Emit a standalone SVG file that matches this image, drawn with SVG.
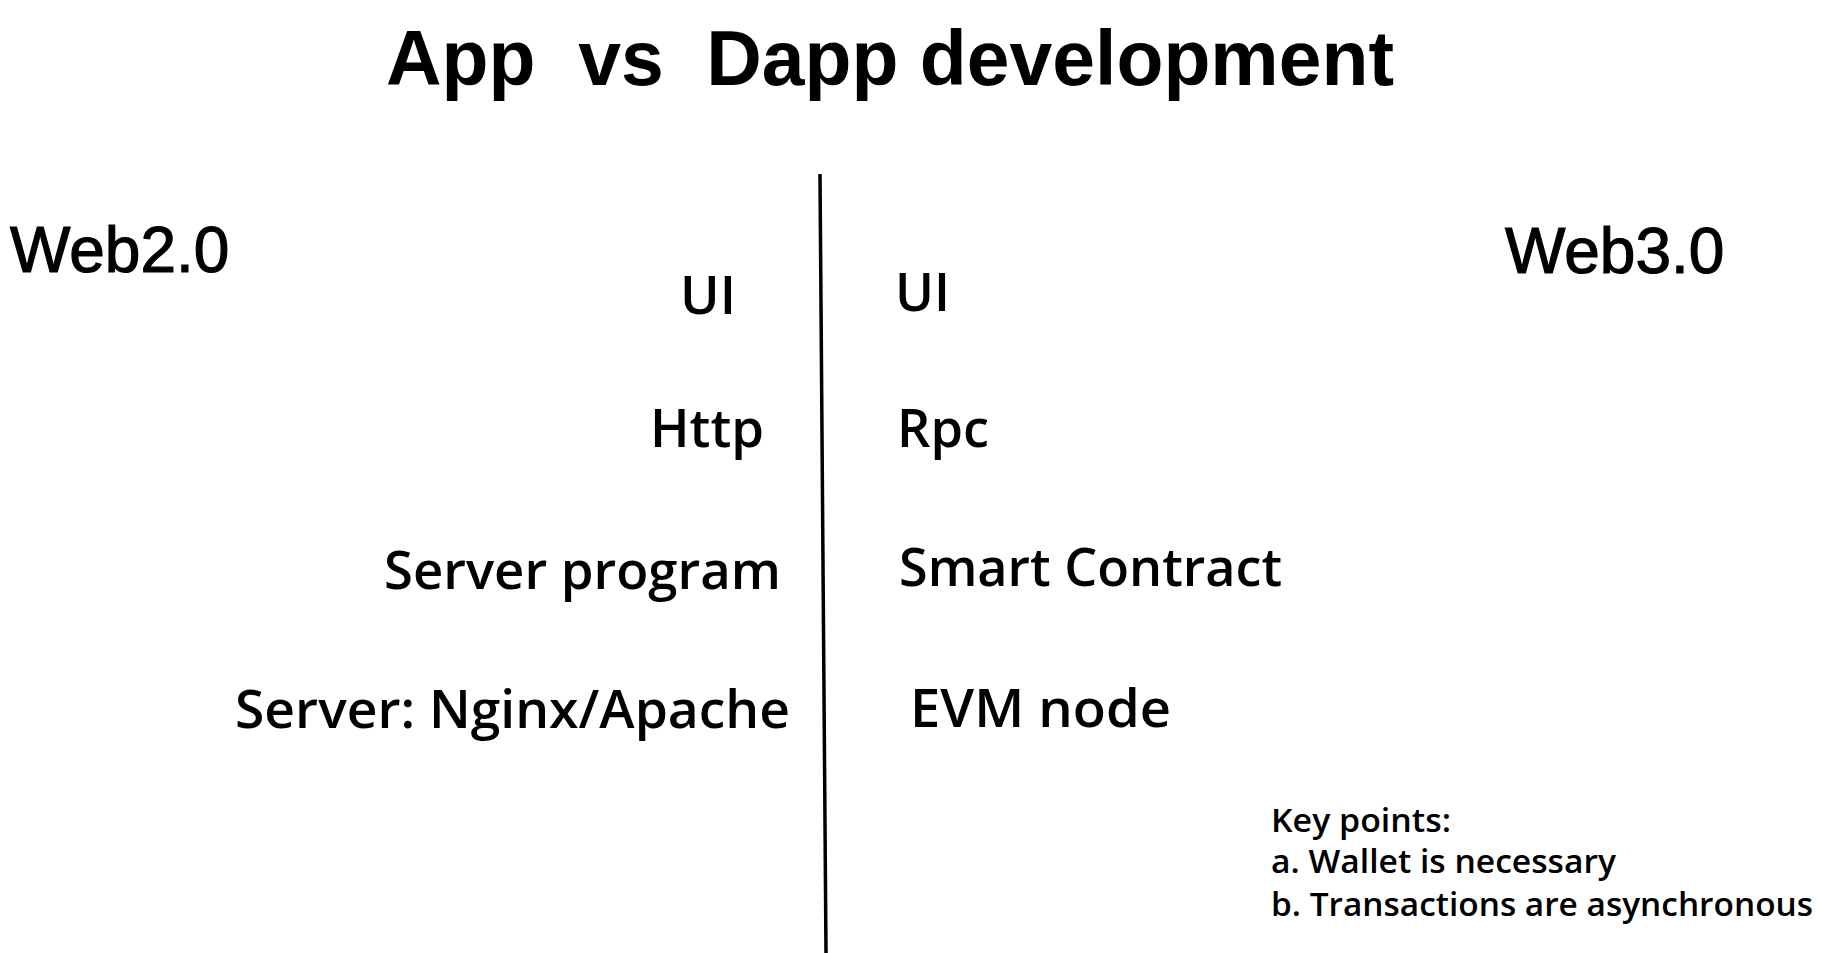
<svg xmlns="http://www.w3.org/2000/svg" width="1821" height="953" viewBox="0 0 1821 953">
<style>
.title{font-family:"Liberation Sans",Arial,sans-serif;font-weight:bold;font-size:77px;fill:#000}
.web{font-family:"Liberation Sans",Arial,sans-serif;font-size:64px;fill:#000;stroke:#000;stroke-width:1.2}
.lbl{font-family:"Open Sans","Noto Sans",sans-serif;font-weight:600;font-size:53px;fill:#000}
.key{font-family:"Open Sans","Noto Sans",sans-serif;font-weight:600;font-size:32px;fill:#000}
.div{stroke:#000;stroke-width:3.5;fill:none}
</style>
<rect width="1821" height="953" fill="#fff"/>
<g id="title"><text class="title" x="386" y="85" textLength="1008" lengthAdjust="spacingAndGlyphs" xml:space="preserve">App  vs  Dapp development</text></g>
<g id="web2"><text class="web" x="10" y="272">Web2.0</text></g>
<g id="web3"><text class="web" x="1505" y="273">Web3.0</text></g>
<g id="connectors"><line class="div" x1="820" y1="174" x2="826" y2="953"/></g>
<g id="left-ui"><text class="lbl" x="680" y="314" textLength="56" lengthAdjust="spacingAndGlyphs">UI</text></g>
<g id="left-http"><text class="lbl" x="650" y="447" textLength="114" lengthAdjust="spacingAndGlyphs">Http</text></g>
<g id="left-server-program"><text class="lbl" x="384" y="589" textLength="397" lengthAdjust="spacingAndGlyphs">Server program</text></g>
<g id="left-server"><text class="lbl" x="235" y="728" textLength="555" lengthAdjust="spacingAndGlyphs">Server: Nginx/Apache</text></g>
<g id="right-ui"><text class="lbl" x="895" y="311" textLength="55" lengthAdjust="spacingAndGlyphs">UI</text></g>
<g id="right-rpc"><text class="lbl" x="897" y="447" textLength="92" lengthAdjust="spacingAndGlyphs">Rpc</text></g>
<g id="right-smart-contract"><text class="lbl" x="899" y="586" textLength="383" lengthAdjust="spacingAndGlyphs">Smart Contract</text></g>
<g id="right-evm"><text class="lbl" x="910" y="727" textLength="261" lengthAdjust="spacingAndGlyphs">EVM node</text></g>
<g id="key-points">
<text class="key" x="1271" y="832" textLength="180" lengthAdjust="spacingAndGlyphs">Key points:</text>
<text class="key" x="1271" y="873" textLength="345" lengthAdjust="spacingAndGlyphs">a. Wallet is necessary</text>
<text class="key" x="1271" y="916" textLength="542" lengthAdjust="spacingAndGlyphs">b. Transactions are asynchronous</text>
</g>
</svg>
